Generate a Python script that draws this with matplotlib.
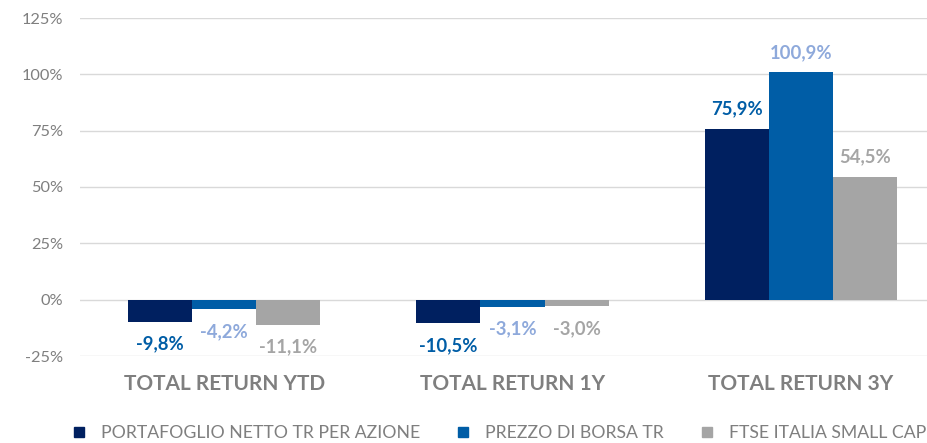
import numpy as np
import matplotlib
matplotlib.use("Agg")
import matplotlib.pyplot as plt
from matplotlib.lines import Line2D

plt.rcParams['font.family'] = ['Lato', 'DejaVu Sans']

# --- dati ---
categories = ['TOTAL RETURN YTD', 'TOTAL RETURN 1Y', 'TOTAL RETURN 3Y']
series_names = ['PORTAFOGLIO NETTO TR PER AZIONE', 'PREZZO DI BORSA TR', 'FTSE ITALIA SMALL CAP']
portafoglio = [-9.8, -10.5, 75.9]
prezzo = [-4.2, -3.1, 100.9]
ftse = [-11.1, -3.0, 54.5]
yticks = [-25, 0, 25, 50, 75, 100, 125]

bar_colors = ['#002060', '#005DA6', '#A5A5A5']
label_colors = ['#005DA6', '#8EA9DB', '#A5A5A5']
grid_col = '#D9D9D9'
text_col = '#7F7F7F'

fig = plt.figure(figsize=(9.28, 4.43), dpi=100)
ax = fig.add_axes([80/928, 87/443, 865/928, 338/443])

x = np.arange(len(categories))
w = 0.667 / 3
for i, vals in enumerate([portafoglio, prezzo, ftse]):
    bars = ax.bar(x + (i - 1) * w, vals, w, color=bar_colors[i], zorder=2)
    for b, v in zip(bars, vals):
        txt = f"{v:.1f}%".replace('.', ',')
        if v >= 0:
            ax.annotate(txt, (b.get_x() + b.get_width() / 2, v), xytext=(0, 8),
                        textcoords='offset points', ha='center', va='bottom',
                        fontsize=13.3, fontweight='bold', color=label_colors[i])
        else:
            ax.annotate(txt, (b.get_x() + b.get_width() / 2, v), xytext=(0, -10),
                        textcoords='offset points', ha='center', va='top',
                        fontsize=13.3, fontweight='bold', color=label_colors[i])

ax.set_xlim(-0.5, 2.5)
ax.set_ylim(-25, 125)
ax.set_yticks(yticks)
ax.set_yticklabels([f"{t}%" for t in yticks])
ax.set_xticks(x)
ax.set_xticklabels(categories, fontsize=15, fontweight='bold', color=text_col)
ax.tick_params(axis='y', length=0, pad=12, labelsize=11.8, labelcolor=text_col)
ax.tick_params(axis='x', length=0, pad=13)
ax.yaxis.grid(True, color=grid_col, lw=1, zorder=0)
for s in ax.spines.values():
    s.set_visible(False)

handles = [Line2D([], [], marker='s', ls='none', markersize=7, color=c) for c in bar_colors]
fig.legend(handles, series_names, loc='center left', bbox_to_anchor=(70/928, 1 - 433/443),
           ncol=3, frameon=False, fontsize=12.7, labelcolor=text_col, handlelength=1.0,
           handletextpad=0.75, columnspacing=1.95, borderpad=0, borderaxespad=0)

fig.savefig('out.png', dpi=100)
